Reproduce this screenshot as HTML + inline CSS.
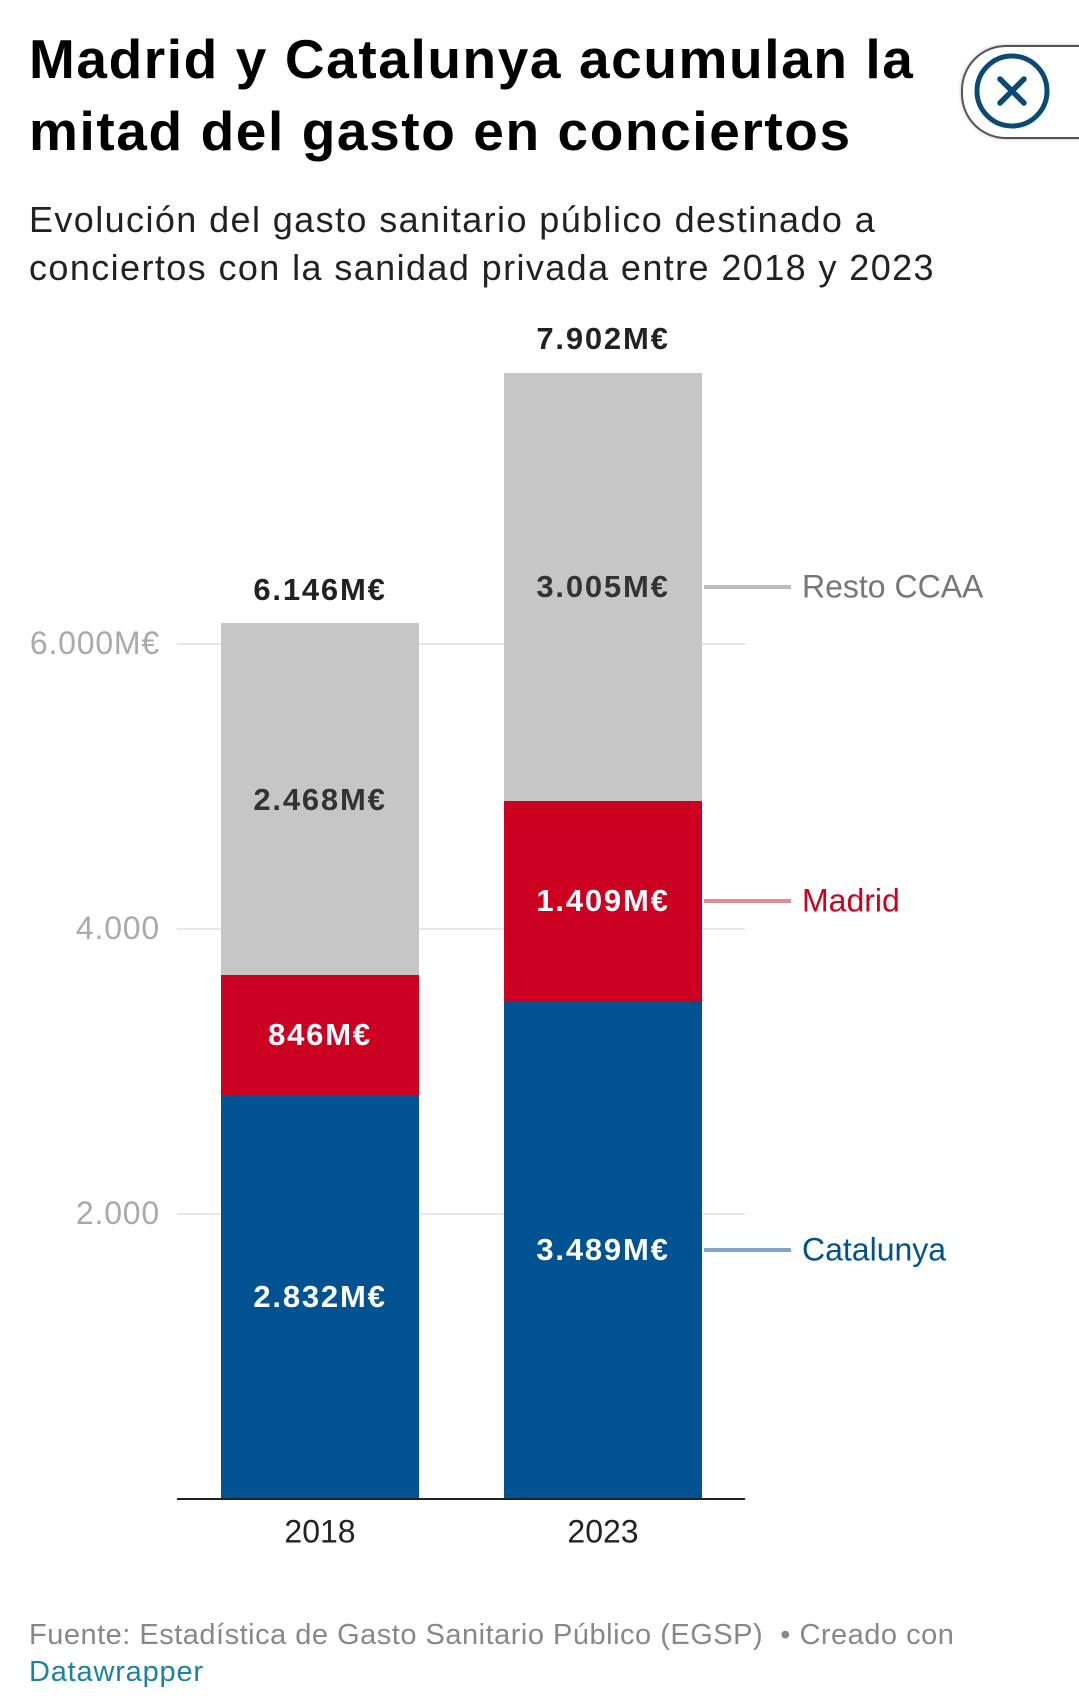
<!DOCTYPE html>
<html><head><meta charset="utf-8"><style>
body{margin:0;width:1079px;height:1705px;background:#fff;font-family:"Liberation Sans",sans-serif;position:relative;overflow:hidden}
.a{position:absolute;white-space:nowrap}
.t{left:29px;font-size:55px;font-weight:bold;color:#000;letter-spacing:1.6px}
.s{left:29px;font-size:36px;color:#222;letter-spacing:1.4px}
.y{right:919px;font-size:32px;color:#aaa;text-align:right;letter-spacing:0.8px}
.g{position:absolute;left:177px;width:568px;height:2px;background:#e8e8e8}
.b{position:absolute}
.v{font-size:31px;font-weight:bold;text-align:center;transform:translate(-50%,-50%);letter-spacing:1.8px}
.l{position:absolute;left:704px;width:87px;height:4px}
.lt{left:802px;font-size:32px;transform:translateY(-50%)}
</style></head><body>
<div class="a t" style="top:27px">Madrid y Catalunya acumulan la</div>
<div class="a t" style="top:99px">mitad del gasto en conciertos</div>
<div class="a s" style="top:199px">Evolución del gasto sanitario público destinado a</div>
<div class="a s" style="top:247px">conciertos con la sanidad privada entre 2018 y 2023</div>
<div style="position:absolute;left:961px;top:45px;width:130px;height:90px;border:2px solid #555;border-radius:45px 0 0 45px;box-shadow:0 0 3px #bbb"></div>
<svg class="a" style="left:972px;top:50px" width="80" height="82"><circle cx="40" cy="41" r="35" fill="none" stroke="#0a4a75" stroke-width="5"/><path d="M28 29L52 53M52 29L28 53" stroke="#0a4a75" stroke-width="5.5" stroke-linecap="round"/></svg>

<div class="g" style="top:643px"></div>
<div class="g" style="top:928px"></div>
<div class="g" style="top:1213px"></div>
<div class="a y" style="top:625px">6.000M€</div>
<div class="a y" style="top:910px">4.000</div>
<div class="a y" style="top:1195px">2.000</div>

<div class="b" style="left:221px;width:198px;top:623px;height:352px;background:#c6c6c6"></div>
<div class="b" style="left:221px;width:198px;top:975px;height:121px;background:#cc0020"></div>
<div class="b" style="left:221px;width:198px;top:1096px;height:403px;background:#005291"></div>
<div class="b" style="left:504px;width:198px;top:373px;height:428px;background:#c6c6c6"></div>
<div class="b" style="left:504px;width:198px;top:801px;height:201px;background:#cc0020"></div>
<div class="b" style="left:504px;width:198px;top:1002px;height:497px;background:#005291"></div>
<div style="position:absolute;left:177px;top:1498px;width:568px;height:2px;background:#222"></div>

<div class="a v" style="left:320px;top:590px;color:#222">6.146M€</div>
<div class="a v" style="left:603px;top:339px;color:#222">7.902M€</div>
<div class="a v" style="left:320px;top:800px;color:#333">2.468M€</div>
<div class="a v" style="left:320px;top:1035px;color:#fff">846M€</div>
<div class="a v" style="left:320px;top:1297px;color:#fff">2.832M€</div>
<div class="a v" style="left:603px;top:587px;color:#333">3.005M€</div>
<div class="a v" style="left:603px;top:901px;color:#fff">1.409M€</div>
<div class="a v" style="left:603px;top:1250px;color:#fff">3.489M€</div>

<div class="l" style="top:585px;background:#bdbdbd"></div>
<div class="l" style="top:899px;background:#e08a98"></div>
<div class="l" style="top:1248px;background:#7fa6c6"></div>
<div class="a lt" style="top:587px;color:#777">Resto CCAA</div>
<div class="a lt" style="top:901px;color:#cc0020">Madrid</div>
<div class="a lt" style="top:1250px;color:#005291">Catalunya</div>

<div class="a" style="left:320px;top:1532px;transform:translate(-50%,-50%);font-size:32px;color:#222">2018</div>
<div class="a" style="left:603px;top:1532px;transform:translate(-50%,-50%);font-size:32px;color:#222">2023</div>

<div class="a" style="left:29px;top:1619px;font-size:29px;color:#888;letter-spacing:0.5px">Fuente: Estadística de Gasto Sanitario Público (EGSP) &nbsp;• Creado con</div>
<div class="a" style="left:29px;top:1656px;font-size:29px;color:#1d81a2;letter-spacing:0.8px">Datawrapper</div>
</body></html>
